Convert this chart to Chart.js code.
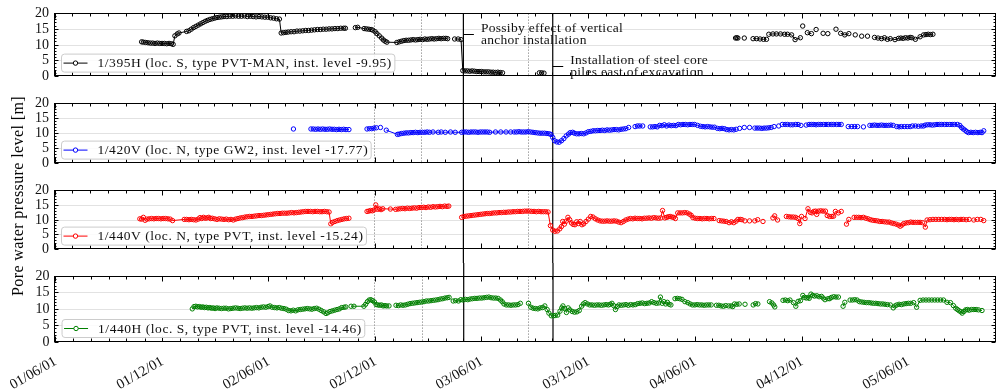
<!DOCTYPE html>
<html>
<head>
<meta charset="utf-8">
<title>Pore water pressure level</title>
<script src="https://cdn.jsdelivr.net/npm/chart.js@4.4.1/dist/chart.umd.min.js"></script>
<style>
  html, body { margin: 0; padding: 0; background: #fff; }
  #wrap { position: relative; width: 1001px; height: 389px; overflow: hidden; }
  #wrap canvas { position: absolute; left: 0; }
  #ytitle {
    position: absolute; left: 18px; top: 196px; z-index: 5;
    transform: translate(-50%, -50%) rotate(-90deg);
    font: 16px "Liberation Serif", serif; letter-spacing: 0.4px;
    white-space: nowrap; color: #000;
  }
</style>
</head>
<body>
<div id="wrap">
  <canvas id="p0" width="1001" height="90" style="top:0px"></canvas>
  <canvas id="p1" width="1001" height="87" style="top:90px"></canvas>
  <canvas id="p2" width="1001" height="86" style="top:177px"></canvas>
  <canvas id="p3" width="1001" height="126" style="top:263px"></canvas>
  <div id="ytitle">Pore water pressure level [m]</div>
</div>
<script>
// ---- axis range and tick labels -------------------------------------------
const xStart = '2001-05-30';
const xEnd = '2005-10-29';
const tickDates = ['2001-06-01', '2001-12-01', '2002-06-01', '2002-12-01', '2003-06-01',
                   '2003-12-01', '2004-06-01', '2004-12-01', '2005-06-01'];
const tickLabels = ['01/06/01', '01/12/01', '02/06/01', '02/12/01', '03/06/01',
                    '03/12/01', '04/06/01', '04/12/01', '05/06/01'];
const levelTicks = [0, 5, 10, 15, 20];

// ---- site events ----------------------------------------------------------
const eventDates = ['2003-05-01', '2003-10-01'];                 // solid lines
const checkDates = ['2002-11-29', '2003-02-19', '2003-08-20'];   // dotted lines
const noteDates = ['2003-05-01', '2003-10-01'];
const noteLevels = [13.4, 3.2];
const noteLines = [['Possiby effect of vertical', 'anchor installation'],
                   ['Installation of steel core', 'piles east of excavation']];

// ---- piezometer names and colours ----------------------------------------
const sensorLabels = ['1/395H (loc. S, type PVT-MAN, inst. level -9.95)',
                      '1/420V (loc. N, type GW2, inst. level -17.77)',
                      '1/440V (loc. N, type PVT, inst. level -15.24)',
                      '1/440H (loc. S, type PVT, inst. level -14.46)'];
const sensorColors = ['#000000', '#0000ff', '#ff0000', '#008000'];

// ---- readings: [date, level m]; null = interruption of the record --------
const obs395H = [
['2001-10-27',11.0],['2001-10-30',10.9],['2001-11-03',10.8],['2001-11-07',10.7],['2001-11-11',10.6],['2001-11-15',10.6],
['2001-11-19',10.5],['2001-11-23',10.6],['2001-11-27',10.5],['2001-12-01',10.5],['2001-12-05',10.5],['2001-12-09',10.4],
['2001-12-13',10.5],['2001-12-17',10.4],['2001-12-20',10.2],['2001-12-23',12.9],['2001-12-27',13.5],['2001-12-30',13.8],
['2002-01-12',14.3],['2002-01-16',14.5],['2002-01-20',15.0],['2002-01-24',15.5],['2002-01-28',15.9],['2002-02-01',16.3],
['2002-02-05',16.7],['2002-02-09',17.1],['2002-02-13',17.5],['2002-02-17',17.8],['2002-02-21',18.1],['2002-02-25',18.3],
['2002-03-01',18.5],['2002-03-05',18.7],['2002-03-09',18.8],['2002-03-13',18.9],['2002-03-17',19.0],['2002-03-22',19.0],
['2002-03-27',19.1],['2002-04-01',19.1],['2002-04-06',19.2],['2002-04-11',19.1],['2002-04-16',19.1],['2002-04-21',19.2],
['2002-04-26',19.0],['2002-05-01',19.1],['2002-05-06',19.0],['2002-05-11',18.9],['2002-05-16',19.0],['2002-05-21',18.9],
['2002-05-26',18.8],['2002-05-31',18.8],['2002-06-05',18.6],['2002-06-10',18.5],['2002-06-15',18.3],['2002-06-20',18.2],
['2002-06-23',13.8],['2002-06-27',13.9],['2002-07-01',14.0],['2002-07-05',14.1],['2002-07-10',14.2],['2002-07-15',14.2],
['2002-07-20',14.4],['2002-07-25',14.4],['2002-07-30',14.5],['2002-08-04',14.6],['2002-08-09',14.6],['2002-08-14',14.7],
['2002-08-19',14.8],['2002-08-24',14.9],['2002-08-29',14.9],['2002-09-03',15.0],['2002-09-08',15.0],['2002-09-13',15.1],
['2002-09-18',15.1],['2002-09-23',15.2],['2002-09-28',15.2],['2002-10-03',15.3],['2002-10-08',15.3],['2002-10-11',15.3],
null,
['2002-10-28',15.5],['2002-11-01',15.6],['2002-11-12',15.2],['2002-11-16',15.1],['2002-11-20',15.0],['2002-11-24',14.9],
['2002-11-27',14.7],['2002-12-01',14.2],['2002-12-04',13.6],['2002-12-08',12.9],['2002-12-12',12.2],['2002-12-15',11.6],
['2002-12-18',11.2],['2002-12-21',10.9],['2003-01-07',10.8],['2003-01-11',11.0],['2003-01-15',11.2],['2003-01-19',11.4],
['2003-01-23',11.5],['2003-01-27',11.5],['2003-01-31',11.6],['2003-02-04',11.7],['2003-02-08',11.6],['2003-02-12',11.7],
['2003-02-16',11.8],['2003-02-20',11.7],['2003-02-24',11.9],['2003-02-28',11.8],['2003-03-04',11.9],['2003-03-08',12.0],
['2003-03-12',11.9],['2003-03-16',12.0],['2003-03-20',12.1],['2003-03-24',12.0],['2003-03-28',12.1],['2003-04-01',12.1],
['2003-04-04',12.0],
null,
['2003-04-16',11.9],['2003-04-22',11.9],['2003-04-27',11.7],['2003-04-30',1.9],['2003-05-04',1.8],['2003-05-08',1.8],
['2003-05-12',1.7],['2003-05-16',1.8],['2003-05-20',1.7],['2003-05-24',1.6],['2003-05-28',1.6],['2003-06-01',1.6],
['2003-06-05',1.5],['2003-06-09',1.5],['2003-06-13',1.5],['2003-06-17',1.4],['2003-06-21',1.4],['2003-06-25',1.3],
['2003-06-29',1.4],['2003-07-03',1.3],['2003-07-07',1.2],
null,
['2003-09-08',1.2],['2003-09-12',1.2],['2003-09-16',1.1],
null,
['2004-08-09',12.2],['2004-08-11',12.3],['2004-08-13',12.2], null, ['2004-08-24',12.2], null,
['2004-09-08',12.0],['2004-09-14',12.0],['2004-09-20',11.9],['2004-09-26',11.8],['2004-10-01',11.8], null,
['2004-10-05',13.4],['2004-10-12',13.5],['2004-10-18',13.5],['2004-10-25',13.5],['2004-11-01',13.4],['2004-11-06',13.4],
['2004-11-13',13.2],['2004-11-19',11.7],['2004-11-28',12.3], null, ['2004-12-02',16.0], null,
['2004-12-10',13.9],['2004-12-17',13.6], null, ['2004-12-25',14.9], null, ['2005-01-06',13.7], null,
['2005-01-14',13.6], null, ['2005-01-28',15.0], null, ['2005-02-05',13.7],['2005-02-12',13.2],['2005-02-19',13.6], null,
['2005-03-02',13.2], null, ['2005-03-13',12.8], null, ['2005-03-23',12.8], null,
['2005-04-04',12.4],['2005-04-10',12.2],['2005-04-16',12.0],['2005-04-21',12.3],['2005-04-26',11.8],['2005-05-01',12.0],
['2005-05-09',11.7],['2005-05-15',12.1],['2005-05-19',12.2],['2005-05-23',12.1],['2005-05-27',12.3],['2005-05-31',12.2],
['2005-06-04',12.4],['2005-06-07',12.3],['2005-06-13',11.8],['2005-06-21',12.6],['2005-06-27',13.2],['2005-07-01',13.3],
['2005-07-05',13.4],['2005-07-09',13.3],['2005-07-13',13.4]
];

const obs420V = [
['2002-07-14',11.5], null,
['2002-08-13',11.5],['2002-08-17',11.5],['2002-08-21',11.4],['2002-08-25',11.5],['2002-08-29',11.4],['2002-09-02',11.5],
['2002-09-06',11.4],['2002-09-10',11.4],['2002-09-14',11.5],['2002-09-18',11.4],['2002-09-22',11.4],['2002-09-26',11.3],
['2002-09-30',11.4],['2002-10-04',11.3],['2002-10-08',11.4],['2002-10-12',11.3],['2002-10-17',11.3], null,
['2002-11-17',11.5],['2002-11-21',11.6],['2002-11-25',11.6],['2002-11-29',11.8],['2002-12-03',11.9], null,
['2002-12-10',12.0], null,
['2002-12-20',11.1],['2003-01-08',9.7],['2003-01-11',9.8],['2003-01-15',10.0],['2003-01-19',10.1],['2003-01-23',10.2],
['2003-01-27',10.2],['2003-01-31',10.3],['2003-02-04',10.3],['2003-02-08',10.4],['2003-02-12',10.3],['2003-02-16',10.4],
['2003-02-20',10.4],['2003-02-24',10.4],['2003-02-28',10.5],['2003-03-04',10.4],['2003-03-10',10.5],['2003-03-19',10.4],
['2003-03-24',10.5],['2003-03-31',10.4],['2003-04-09',10.5],['2003-04-17',10.4],['2003-04-28',10.4],['2003-05-02',10.5],
['2003-05-06',10.5],['2003-05-10',10.4],['2003-05-14',10.5],['2003-05-18',10.5],['2003-05-22',10.5],['2003-05-26',10.4],
['2003-05-30',10.5],['2003-06-03',10.5],['2003-06-07',10.5],['2003-06-11',10.5],['2003-06-15',10.4],['2003-06-25',10.5],
['2003-07-04',10.5],['2003-07-13',10.5],['2003-07-21',10.5],['2003-07-27',10.5],['2003-07-31',10.5],['2003-08-04',10.6],
['2003-08-08',10.5],['2003-08-12',10.5],['2003-08-16',10.5],['2003-08-20',10.6],['2003-08-24',10.5],['2003-08-28',10.4],
['2003-09-01',10.3],['2003-09-05',10.2],['2003-09-09',10.1],['2003-09-13',10.1],['2003-09-17',10.1],['2003-09-21',10.0],
['2003-09-25',9.9],['2003-09-28',9.7],['2003-10-01',8.7],['2003-10-04',7.6],['2003-10-08',7.2],['2003-10-12',7.1],
['2003-10-16',7.6],['2003-10-20',8.3],['2003-10-24',9.2],['2003-10-28',9.8],['2003-10-31',10.3],['2003-11-04',10.4],
['2003-11-07',10.1],['2003-11-11',9.9],['2003-11-15',9.9],['2003-11-19',10.0],['2003-11-23',9.9],['2003-11-27',10.2],
['2003-12-01',10.6],['2003-12-05',10.7],['2003-12-09',10.9],['2003-12-13',10.9],['2003-12-17',11.0],['2003-12-21',11.0],
['2003-12-25',11.1],['2003-12-29',11.0],['2004-01-02',11.2],['2004-01-06',11.1],['2004-01-10',11.2],['2004-01-14',11.3],
['2004-01-18',11.3],['2004-01-22',11.2],['2004-01-26',11.4],['2004-01-30',11.5],['2004-02-03',11.6],['2004-02-08',12.0],
null,
['2004-02-19',12.3],['2004-02-23',12.5],['2004-02-27',12.5],['2004-03-03',12.5], null,
['2004-03-16',12.2],['2004-03-20',12.2],['2004-03-24',12.3],['2004-03-28',12.2],['2004-04-01',12.7],['2004-04-05',12.6],
['2004-04-09',12.9],['2004-04-13',12.5],['2004-04-17',12.8],['2004-04-21',12.6],['2004-04-25',12.7],['2004-04-29',12.6],
['2004-05-03',13.0],['2004-05-07',12.9],['2004-05-11',13.0],['2004-05-15',13.0],['2004-05-19',12.9],['2004-05-23',13.0],
['2004-05-27',13.0],['2004-05-31',13.0],['2004-06-05',12.7],['2004-06-10',12.4],['2004-06-14',12.3],['2004-06-18',12.2],
['2004-06-22',12.3],['2004-06-26',12.2],['2004-06-30',12.1],['2004-07-04',12.1],['2004-07-09',11.7],['2004-07-13',11.6],
['2004-07-17',11.7],['2004-07-21',11.6],['2004-07-25',11.3],['2004-07-29',11.2],['2004-08-02',11.3],['2004-08-06',11.2],
['2004-08-10',11.4], null, ['2004-08-16',11.7], null, ['2004-08-24',12.0], null, ['2004-09-02',12.0], null,
['2004-09-11',11.8],['2004-09-15',11.8],['2004-09-19',11.8],['2004-09-23',11.7],['2004-09-27',11.8],['2004-10-01',11.8],
['2004-10-05',11.9],['2004-10-09',12.0], null, ['2004-10-14',12.3], null, ['2004-10-22',12.5], null,
['2004-10-28',13.0],['2004-11-02',13.0],['2004-11-06',13.0],['2004-11-11',12.9],['2004-11-15',12.9],['2004-11-20',13.0],
['2004-11-24',13.0],['2004-11-29',12.7], null,
['2004-12-08',12.8],['2004-12-13',13.0],['2004-12-17',13.0],['2004-12-21',13.0],['2004-12-25',12.9],['2004-12-29',13.0],
['2005-01-02',13.0],['2005-01-07',13.0],['2005-01-11',13.0],['2005-01-15',13.0],['2005-01-20',13.0],['2005-01-24',13.0],
['2005-01-29',13.0],['2005-02-02',13.0],['2005-02-06',13.0], null,
['2005-02-18',12.3],['2005-02-24',12.3],['2005-03-01',12.3],['2005-03-06',12.3], null, ['2005-03-16',12.2], null,
['2005-03-27',12.7],['2005-03-31',12.7],['2005-04-04',12.8],['2005-04-08',12.7],['2005-04-12',12.7],['2005-04-16',12.8],
['2005-04-20',12.7],['2005-04-24',12.7],['2005-04-28',12.7],['2005-05-02',12.8],['2005-05-06',12.7], null,
['2005-05-12',12.3],['2005-05-16',12.2],['2005-05-20',12.3],['2005-05-25',12.3],['2005-05-30',12.3],['2005-06-04',12.3],
null,
['2005-06-08',12.5],['2005-06-13',12.5],['2005-06-18',12.4],['2005-06-23',12.5],['2005-06-27',12.5],['2005-06-30',12.8],
['2005-07-04',12.9],['2005-07-08',12.9],['2005-07-12',12.8],['2005-07-16',12.9],['2005-07-20',13.0],['2005-07-24',13.0],
['2005-07-28',13.0],['2005-08-02',13.0],['2005-08-06',13.0],['2005-08-11',13.0],['2005-08-15',13.0],['2005-08-19',13.0],
['2005-08-24',13.0],['2005-08-28',12.7],['2005-08-31',12.0],['2005-09-03',11.5],['2005-09-06',11.1],['2005-09-09',10.6],
['2005-09-12',10.3],['2005-09-16',10.4],['2005-09-20',10.3],['2005-09-24',10.4],['2005-09-28',10.3],['2005-10-02',10.4],
['2005-10-05',10.3],['2005-10-08',10.9]
];

const obs440V = [
['2001-10-24',10.4],['2001-10-27',10.3],['2001-10-30',10.9],['2001-11-02',9.9],['2001-11-05',10.3],['2001-11-09',10.4],
['2001-11-13',10.5],['2001-11-17',10.4],['2001-11-21',10.5],['2001-11-25',10.5],['2001-11-29',10.4],['2001-12-03',10.5],
['2001-12-07',10.5],['2001-12-11',10.4],['2001-12-15',10.3],['2001-12-19',9.8],['2002-01-08',10.2],['2002-01-12',10.2],
['2002-01-16',10.1],['2002-01-20',10.2],['2002-01-24',10.1],['2002-01-28',10.0],['2002-02-01',10.3],['2002-02-04',10.8],
['2002-02-07',10.5],['2002-02-10',10.9],['2002-02-13',10.6],['2002-02-16',10.7],['2002-02-19',10.9],['2002-02-22',10.5],
['2002-02-25',10.6],['2002-03-01',10.4],['2002-03-05',10.2],['2002-03-09',10.4],['2002-03-13',10.3],['2002-03-17',10.2],
['2002-03-21',10.3],['2002-03-25',10.1],['2002-03-29',10.2],['2002-04-02',10.0],['2002-04-06',10.3],['2002-04-10',10.5],
['2002-04-14',10.7],['2002-04-18',10.8],['2002-04-22',11.0],['2002-04-26',11.1],['2002-04-30',11.2],['2002-05-04',11.2],
['2002-05-08',11.3],['2002-05-12',11.4],['2002-05-16',11.5],['2002-05-20',11.5],['2002-05-24',11.6],['2002-05-28',11.7],
['2002-06-01',11.8],['2002-06-05',11.9],['2002-06-09',12.0],['2002-06-13',12.1],['2002-06-17',12.2],['2002-06-21',12.2],
['2002-06-25',12.3],['2002-06-29',12.3],['2002-07-03',12.3],['2002-07-07',12.4],['2002-07-11',12.5],['2002-07-15',12.4],
['2002-07-19',12.5],['2002-07-23',12.6],['2002-07-27',12.7],['2002-07-31',12.8],['2002-08-04',12.9],['2002-08-08',12.9],
['2002-08-12',12.9],['2002-08-16',12.8],['2002-08-20',12.9],['2002-08-24',12.9],['2002-08-28',12.8],['2002-09-01',12.8],
['2002-09-05',12.9],['2002-09-09',12.8],['2002-09-13',12.7],['2002-09-16',8.7],['2002-09-19',9.2],['2002-09-23',9.5],
['2002-09-27',9.8],['2002-10-01',10.0],['2002-10-05',10.2],['2002-10-09',10.4],['2002-10-13',10.5],['2002-10-17',10.6],
null,
['2002-11-17',12.9],['2002-11-20',13.0],['2002-11-23',13.2],['2002-11-26',13.1],['2002-11-29',13.4],['2002-12-02',15.1],
['2002-12-05',13.6],['2002-12-08',13.8],['2002-12-11',13.5],['2002-12-14',13.8],['2002-12-27',13.7],['2003-01-05',13.6],
['2003-01-09',13.7],['2003-01-13',13.8],['2003-01-17',13.9],['2003-01-21',13.8],['2003-01-25',14.0],['2003-01-29',13.9],
['2003-02-02',14.0],['2003-02-06',14.1],['2003-02-10',14.0],['2003-02-14',14.2],['2003-02-18',14.2],['2003-02-22',14.3],
['2003-02-26',14.2],['2003-03-02',14.4],['2003-03-06',14.3],['2003-03-10',14.5],['2003-03-14',14.4],['2003-03-18',14.5],
['2003-03-22',14.6],['2003-03-26',14.5],['2003-03-30',14.7],['2003-04-03',14.6],['2003-04-06',14.7],
null,
['2003-04-28',10.9],['2003-05-02',11.2],['2003-05-06',11.3],['2003-05-10',11.4],['2003-05-14',11.5],['2003-05-18',11.6],
['2003-05-22',11.7],['2003-05-26',11.8],['2003-05-30',11.9],['2003-06-03',12.0],['2003-06-07',12.1],['2003-06-11',12.2],
['2003-06-15',12.2],['2003-06-19',12.3],['2003-06-23',12.4],['2003-06-27',12.4],['2003-07-01',12.5],['2003-07-05',12.5],
['2003-07-09',12.6],['2003-07-13',12.6],['2003-07-17',12.7],['2003-07-21',12.7],['2003-07-25',12.8],['2003-07-29',12.8],
['2003-08-02',12.9],['2003-08-06',12.9],['2003-08-10',12.9],['2003-08-14',13.0],['2003-08-18',13.0],['2003-08-22',13.0],
['2003-08-26',12.9],['2003-08-30',12.9],['2003-09-03',12.8],['2003-09-07',12.9],['2003-09-11',12.8],['2003-09-15',12.8],
['2003-09-19',12.8],['2003-09-23',12.7],['2003-09-27',8.1],['2003-10-01',6.6],['2003-10-05',6.2],['2003-10-09',6.3],
['2003-10-13',7.0],['2003-10-16',7.8],['2003-10-18',9.5],['2003-10-21',8.6],['2003-10-24',9.6],['2003-10-27',10.9],
['2003-10-30',10.1],['2003-11-02',9.0],['2003-11-05',8.5],['2003-11-08',8.4],['2003-11-11',9.4],['2003-11-14',8.8],
['2003-11-17',9.5],['2003-11-20',8.4],['2003-11-23',8.7],['2003-11-27',9.5],['2003-12-01',10.3],['2003-12-05',11.2],
['2003-12-09',11.0],['2003-12-13',10.4],['2003-12-17',10.0],['2003-12-21',9.7],['2003-12-25',9.6],['2003-12-29',9.6],
['2004-01-02',9.7],['2004-01-06',9.6],['2004-01-10',9.6],['2004-01-14',9.7],['2004-01-18',9.6],['2004-01-22',9.3],
['2004-01-26',9.1],['2004-01-30',9.5],['2004-02-03',10.0],['2004-02-07',10.3],['2004-02-11',10.5],['2004-02-15',10.4],
['2004-02-19',10.6],['2004-02-23',10.5],['2004-02-27',10.5],['2004-03-02',10.4],['2004-03-06',10.6],['2004-03-10',10.6],
['2004-03-14',10.7],['2004-03-18',10.6],['2004-03-22',10.8],['2004-03-26',10.7],['2004-03-30',10.6],['2004-04-03',10.7],
['2004-04-06',13.2],['2004-04-10',10.7],['2004-04-13',10.9],['2004-04-16',11.1],['2004-04-19',11.2],['2004-04-22',11.0],
['2004-04-25',10.9],['2004-04-28',10.5],['2004-05-02',12.4],['2004-05-06',12.4],['2004-05-10',12.4],['2004-05-14',12.5],
['2004-05-18',12.4],['2004-05-22',12.0],['2004-05-25',11.6],['2004-05-28',10.8],['2004-06-01',10.6],['2004-06-05',10.5],
['2004-06-09',10.5],['2004-06-13',10.4],['2004-06-17',10.5],['2004-06-21',10.5],['2004-06-25',10.4],['2004-06-29',10.5],
['2004-07-03',10.5], null,
['2004-07-12',9.8],['2004-07-16',9.7],['2004-07-20',9.6],['2004-07-24',9.5],['2004-07-29',9.1],['2004-08-02',9.4],
['2004-08-06',9.1],['2004-08-10',9.6],['2004-08-13',10.2],['2004-08-17',10.2],['2004-08-20',10.1], null,
['2004-08-25',9.7], null, ['2004-09-02',9.7], null, ['2004-09-11',9.7],['2004-09-16',10.1], null, ['2004-09-25',9.5], null,
['2004-10-12',10.7],['2004-10-15',11.4],['2004-10-20',10.0], null,
['2004-11-04',11.2],['2004-11-08',11.1],['2004-11-12',11.0],['2004-11-16',11.0],['2004-11-20',10.9],['2004-11-24',10.5],
['2004-11-27',8.8],['2004-11-30',11.2], null,
['2004-12-06',10.5],['2004-12-11',13.8],['2004-12-15',12.6],['2004-12-18',12.4],['2004-12-21',12.9],['2004-12-24',13.0],
['2004-12-26',11.9],['2004-12-29',13.0],['2005-01-02',13.1],['2005-01-06',13.0],['2005-01-10',13.0],['2005-01-13',11.5],
['2005-01-17',11.2],['2005-01-21',11.2],['2005-01-24',11.3],['2005-01-27',12.9],['2005-02-01',12.4],['2005-02-06',12.9],
null,
['2005-02-15',8.6],['2005-02-19',10.2], null,
['2005-02-28',10.9],['2005-03-04',10.9],['2005-03-08',10.9],['2005-03-12',10.8],['2005-03-16',10.9],['2005-03-20',10.6],
['2005-03-24',10.4],['2005-03-28',10.1],['2005-04-01',9.9],['2005-04-05',9.8],['2005-04-09',9.7],['2005-04-13',9.5],
['2005-04-17',9.5],['2005-04-21',9.4],['2005-04-25',9.3],['2005-04-29',9.3],['2005-05-03',9.0],['2005-05-07',8.8],
['2005-05-11',8.6],['2005-05-15',8.3],['2005-05-18',7.9],['2005-05-21',8.3],['2005-05-24',8.8],['2005-05-28',9.0],
['2005-06-01',9.1],['2005-06-05',9.3],['2005-06-09',9.2],['2005-06-13',9.2],['2005-06-17',9.2],['2005-06-21',9.2],
['2005-06-25',9.1],['2005-06-30',7.6],['2005-07-03',10.0],['2005-07-08',10.1],['2005-07-13',10.2],['2005-07-18',10.2],
['2005-07-23',10.2],['2005-07-28',10.2],['2005-08-02',10.2],['2005-08-06',10.1],['2005-08-10',10.2],['2005-08-14',10.2],
['2005-08-18',10.1],['2005-08-22',10.2],['2005-08-26',10.1],['2005-08-30',10.2],['2005-09-03',10.2],['2005-09-08',10.1],
['2005-09-13',10.2], null, ['2005-09-21',10.0],['2005-09-27',10.2], null, ['2005-10-03',10.2],['2005-10-08',9.8]
];

const obs440H = [
['2002-01-21',10.1],['2002-01-24',10.8],['2002-01-27',10.9],['2002-01-30',10.7],['2002-02-02',10.8],['2002-02-05',10.6],
['2002-02-08',10.7],['2002-02-11',10.5],['2002-02-14',10.6],['2002-02-17',10.4],['2002-02-20',10.5],['2002-02-23',10.3],
['2002-02-26',10.4],['2002-03-01',10.2],['2002-03-04',10.4],['2002-03-08',10.3],['2002-03-12',10.2],['2002-03-16',10.3],
['2002-03-20',10.3],['2002-03-24',10.1],['2002-03-28',10.2],['2002-04-01',10.3],['2002-04-05',10.4],['2002-04-09',10.3],
['2002-04-13',10.2],['2002-04-17',10.3],['2002-04-21',10.4],['2002-04-25',10.3],['2002-04-29',10.4],['2002-05-03',10.3],
['2002-05-07',10.4],['2002-05-11',10.5],['2002-05-15',10.4],['2002-05-19',10.6],['2002-05-23',10.7],['2002-05-27',10.6],
['2002-05-31',10.8],['2002-06-03',11.0],['2002-06-07',10.6],['2002-06-11',10.5],['2002-06-15',10.4],['2002-06-19',10.5],
['2002-06-23',10.3],['2002-06-27',10.2],['2002-07-01',10.0],['2002-07-05',9.6],['2002-07-09',9.5],['2002-07-13',9.7],
['2002-07-17',9.5],['2002-07-21',9.8],['2002-07-25',9.9],['2002-07-29',10.0],['2002-08-02',10.1],['2002-08-06',10.2],
['2002-08-10',10.1],['2002-08-14',10.0],['2002-08-18',10.2],['2002-08-22',10.3],['2002-08-26',10.0],['2002-08-30',9.6],
['2002-09-03',9.2],['2002-09-07',8.7],['2002-09-10',8.9],['2002-09-14',9.3],['2002-09-18',9.5],['2002-09-22',9.7],
['2002-09-26',9.9],['2002-09-30',10.1],['2002-10-04',10.5],['2002-10-08',10.6],['2002-10-11',10.7], null,
['2002-10-20',10.9],['2002-10-25',10.9],['2002-11-11',10.9],['2002-11-14',11.5],['2002-11-17',12.3],['2002-11-20',12.8],
['2002-11-23',12.9],['2002-11-26',12.6],['2002-11-29',12.2],['2002-12-02',11.4],['2002-12-05',11.3],['2002-12-08',11.2],
['2002-12-11',11.3],['2002-12-14',11.0],['2002-12-17',11.1],['2002-12-20',11.0],['2002-12-24',11.0], null,
['2003-01-05',11.2],['2003-01-09',11.1],['2003-01-13',11.3],['2003-01-17',11.2],['2003-01-21',11.3],['2003-01-25',11.5],
['2003-01-29',11.7],['2003-02-02',11.8],['2003-02-06',11.9],['2003-02-10',12.0],['2003-02-14',12.1],['2003-02-18',12.2],
['2003-02-22',12.3],['2003-02-26',12.5],['2003-03-02',12.5],['2003-03-06',12.6],['2003-03-10',12.7],['2003-03-14',12.8],
['2003-03-18',12.9],['2003-03-22',13.1],['2003-03-26',13.2],['2003-03-30',13.4],['2003-04-03',13.5],['2003-04-06',13.6],
null,
['2003-04-13',12.5],['2003-04-17',12.6],['2003-04-22',12.5],['2003-04-26',12.9],['2003-04-30',12.8],['2003-05-04',13.0],
['2003-05-08',12.9],['2003-05-12',13.1],['2003-05-16',13.2],['2003-05-20',13.3],['2003-05-24',13.3],['2003-05-28',13.4],
['2003-06-01',13.4],['2003-06-05',13.5],['2003-06-09',13.6],['2003-06-13',13.7],['2003-06-17',13.5],['2003-06-21',13.4],
['2003-06-25',13.4],['2003-06-29',13.3],['2003-07-03',12.8],['2003-07-06',12.3],['2003-07-09',11.6],['2003-07-13',11.3],
['2003-07-17',11.3],['2003-07-21',11.2],['2003-07-25',11.3],['2003-07-29',11.3],['2003-08-02',11.4],['2003-08-06',11.8],
null,
['2003-08-20',11.8],['2003-08-24',10.6],['2003-08-28',10.3],['2003-09-01',10.2],['2003-09-05',10.1],['2003-09-09',10.4],
['2003-09-13',10.5],['2003-09-17',11.0],['2003-09-21',9.9],['2003-09-24',8.8],['2003-09-28',8.0],['2003-10-02',8.0],
['2003-10-05',8.1],['2003-10-09',8.2],['2003-10-13',9.4],['2003-10-16',10.4],['2003-10-18',11.0],['2003-10-21',10.2],
['2003-10-24',9.0],['2003-10-27',10.4],['2003-10-30',9.8],['2003-11-03',9.3],['2003-11-07',9.1],['2003-11-11',9.2],
['2003-11-15',9.6],['2003-11-19',10.9],['2003-11-22',11.6],['2003-11-25',12.0],['2003-11-29',11.6],['2003-12-03',11.3],
['2003-12-07',11.3],['2003-12-11',11.2],['2003-12-15',11.3],['2003-12-19',11.3],['2003-12-23',11.2],['2003-12-27',11.3],
['2003-12-31',11.4],['2004-01-04',11.3],['2004-01-07',11.5],['2004-01-10',11.8],['2004-01-13',11.1],['2004-01-16',9.9],
['2004-01-19',10.8],['2004-01-22',11.3],['2004-01-26',11.2],['2004-01-30',11.3],['2004-02-03',11.4],['2004-02-07',11.2],
['2004-02-11',11.4],['2004-02-15',11.3],['2004-02-19',11.4],['2004-02-23',11.7],['2004-02-27',11.8],['2004-03-02',11.9],
['2004-03-06',11.7],['2004-03-10',11.8],['2004-03-14',11.9],['2004-03-18',12.3],['2004-03-22',12.0],['2004-03-26',11.8],
['2004-03-30',11.9],['2004-04-02',13.7],['2004-04-05',11.8],['2004-04-08',12.3],['2004-04-11',11.6],['2004-04-14',12.1],
['2004-04-17',11.5],['2004-04-20',11.3], null,
['2004-04-27',13.2],['2004-05-01',13.3],['2004-05-05',13.2],['2004-05-09',13.0],['2004-05-14',12.3],['2004-05-19',12.0],
['2004-05-23',11.6],['2004-05-27',11.3],['2004-05-31',11.3],['2004-06-04',11.4],['2004-06-08',11.3],['2004-06-12',11.3],
['2004-06-16',11.2],['2004-06-20',11.3],['2004-06-24',11.3],['2004-06-28',11.3], null,
['2004-07-07',11.2],['2004-07-11',11.2],['2004-07-15',11.0],['2004-07-19',10.9],['2004-07-23',11.1], null,
['2004-07-28',11.0],['2004-08-01',11.0],['2004-08-04',10.8],['2004-08-07',11.6],['2004-08-11',11.5],['2004-08-15',11.6],
null, ['2004-08-25',11.5], null, ['2004-09-08',11.3],['2004-09-12',11.7],['2004-09-16',11.6], null,
['2004-10-06',12.3],['2004-10-10',11.9],['2004-10-13',11.3],['2004-10-15',10.7], null,
['2004-10-29',12.7],['2004-11-02',12.8],['2004-11-06',12.6],['2004-11-10',12.8],['2004-11-16',12.0],['2004-11-20',10.9],
['2004-11-24',12.4],['2004-11-28',12.6],['2004-12-02',14.2],['2004-12-05',13.6],['2004-12-08',13.4],['2004-12-11',13.6],
['2004-12-13',13.3],['2004-12-16',14.6],['2004-12-19',14.2],['2004-12-22',14.0],['2004-12-26',14.1],['2004-12-30',13.8],
['2005-01-03',13.9],['2005-01-06',13.4],['2005-01-09',12.9],['2005-01-14',13.2],['2005-01-17',13.2],['2005-01-20',13.6],
['2005-01-24',13.8],['2005-01-28',13.7],['2005-02-01',13.7], null,
['2005-02-09',10.9],['2005-02-12',12.1], null,
['2005-02-21',12.8],['2005-02-25',12.8],['2005-03-01',12.9],['2005-03-05',12.8],['2005-03-09',12.3],['2005-03-13',12.2],
['2005-03-17',12.1],['2005-03-21',12.0],['2005-03-25',12.0],['2005-03-29',11.9],['2005-04-02',11.8],['2005-04-06',11.8],
['2005-04-10',11.7],['2005-04-14',11.6],['2005-04-18',11.6],['2005-04-22',11.5],['2005-04-26',11.4],['2005-05-01',11.3],
['2005-05-06',10.4],['2005-05-09',11.0],['2005-05-12',11.3],['2005-05-16',11.5],['2005-05-20',11.4],['2005-05-24',11.6],
['2005-05-28',11.7],['2005-06-01',11.8],['2005-06-05',11.8],['2005-06-10',12.0],['2005-06-15',10.6],['2005-06-21',12.7],
['2005-06-26',12.8],['2005-07-01',12.8],['2005-07-06',12.8],['2005-07-11',12.8],['2005-07-16',12.8],['2005-07-21',12.8],
['2005-07-26',12.8],['2005-07-31',12.8],['2005-08-06',12.1],['2005-08-12',12.0],['2005-08-17',11.1],['2005-08-21',10.3],
['2005-08-24',9.9],['2005-08-27',9.5],['2005-08-30',9.2],['2005-09-01',8.8],['2005-09-04',9.3],['2005-09-07',9.8],
['2005-09-10',9.9],['2005-09-13',9.7],['2005-09-17',9.9],['2005-09-21',9.9],['2005-09-25',9.9],['2005-09-29',9.8],
['2005-10-05',9.6]
];

// ---- helpers --------------------------------------------------------------
const DAY_MS = 86400000;
function toDay(s) {
  const [y, m, d] = s.split('-').map(Number);
  return Date.UTC(y, m - 1, d) / DAY_MS;
}
function toPoints(obs) {
  const pts = [];
  let lastX = toDay(xStart);
  for (const o of obs) {
    if (o === null) { pts.push({ x: lastX, y: null }); continue; }
    lastX = toDay(o[0]);
    pts.push({ x: lastX, y: o[1] });
  }
  return pts;
}
const crisp = v => Math.floor(v) + 0.5;
const SERIF = '"Liberation Serif", "Times New Roman", serif';
const majorTickDays = tickDates.map(toDay);

// month starts between the axis limits (for the small ticks)
function monthStarts() {
  const out = [];
  const [y0, m0] = xStart.split('-').map(Number);
  let y = y0, m = m0;
  const end = toDay(xEnd);
  for (;;) {
    const d = Date.UTC(y, m - 1, 1) / DAY_MS;
    if (d > end) break;
    if (d >= toDay(xStart)) out.push(d);
    m++; if (m > 12) { m = 1; y++; }
  }
  return out;
}
const minorTickDays = monthStarts();

// ---- per-panel decorations: event lines, frame, inward ticks, legend, notes --
const panelDecor = {
  id: 'panelDecor',
  beforeDatasetsDraw(chart, args, opts) {
    const { ctx, chartArea: a, scales: { x } } = chart;
    ctx.save();
    ctx.strokeStyle = '#a0a0a0';
    ctx.lineWidth = 1;
    ctx.setLineDash([1.5, 1.5]);
    for (const d of checkDates) {
      const px = crisp(x.getPixelForValue(toDay(d)));
      ctx.beginPath(); ctx.moveTo(px, a.top); ctx.lineTo(px, a.bottom); ctx.stroke();
    }
    ctx.setLineDash([]);
    ctx.strokeStyle = '#000';
    ctx.lineWidth = 1.2;
    const top = opts.first ? a.top : 0;
    const bottom = opts.last ? a.bottom : chart.height;
    for (const d of eventDates) {
      const px = x.getPixelForValue(toDay(d));
      ctx.beginPath(); ctx.moveTo(px, top); ctx.lineTo(px, bottom); ctx.stroke();
    }
    ctx.restore();
  },
  afterDatasetsDraw(chart) {
    const { ctx, chartArea: a, scales: { x, y } } = chart;
    const L = crisp(a.left), R = crisp(a.right - 1), T = crisp(a.top), B = crisp(a.bottom - 1);
    ctx.save();
    ctx.strokeStyle = '#000';
    ctx.lineWidth = 1;
    ctx.beginPath();
    // level ticks, left and right, pointing inwards
    for (let v = 0; v <= 20; v++) {
      const py = crisp(y.getPixelForValue(v));
      const len = v % 5 === 0 ? 4 : 2;
      ctx.moveTo(L, py); ctx.lineTo(L + len, py);
      ctx.moveTo(R, py); ctx.lineTo(R - len, py);
    }
    // date ticks, top and bottom, pointing inwards
    for (const d of minorTickDays) {
      const px = crisp(x.getPixelForValue(d));
      const len = majorTickDays.includes(d) ? 5 : 3;
      ctx.moveTo(px, T); ctx.lineTo(px, T + len);
      ctx.moveTo(px, B); ctx.lineTo(px, B - len);
    }
    ctx.stroke();
    ctx.strokeRect(L, T, R - L, B - T);
    ctx.restore();
  },
  afterDraw(chart, args, opts) {
    const { ctx, chartArea: a } = chart;
    const ds = chart.data.datasets[0];
    ctx.save();
    // legend box in the lower-left corner
    ctx.font = '13.5px ' + SERIF;
    ctx.letterSpacing = '0.55px';
    const tw = ctx.measureText(ds.label).width;
    const bh = 18, bx = a.left + 7.5, by = a.bottom - 4.5 - bh, bw = 36 + tw + 3;
    ctx.beginPath();
    ctx.roundRect(bx, by, bw, bh, 3);
    ctx.fillStyle = 'rgba(255,255,255,0.85)';
    ctx.fill();
    ctx.strokeStyle = '#cccccc';
    ctx.lineWidth = 1;
    ctx.stroke();
    const cy = by + bh / 2;
    ctx.strokeStyle = ds.borderColor;
    ctx.beginPath(); ctx.moveTo(bx + 2, cy); ctx.lineTo(bx + 26, cy); ctx.stroke();
    ctx.beginPath(); ctx.arc(bx + 14, cy, 2.2, 0, Math.PI * 2);
    ctx.fillStyle = '#fff'; ctx.fill(); ctx.stroke();
    ctx.fillStyle = '#111';
    ctx.textBaseline = 'middle';
    ctx.textAlign = 'left';
    ctx.fillText(ds.label, bx + 36, cy + 0.5);

    // notes attached to the event lines
    if (opts.first) {
      const { x, y } = chart.scales;
      ctx.letterSpacing = '0.3px';
      ctx.strokeStyle = '#000';
      ctx.lineWidth = 1;
      for (let i = 0; i < noteDates.length; i++) {
        const px = x.getPixelForValue(toDay(noteDates[i]));
        const py = crisp(y.getPixelForValue(noteLevels[i]));
        ctx.beginPath(); ctx.moveTo(px, py); ctx.lineTo(px + 10.5, py); ctx.stroke();
        ctx.fillText(noteLines[i][0], px + 17.5, py - 6.3);
        ctx.fillText(noteLines[i][1], px + 17.5, py + 6.3);
      }
    }
    ctx.restore();
  }
};

// ---- build the four stacked panels ---------------------------------------
const panelSeries = [obs395H, obs420V, obs440V, obs440H];
const canvasIds = ['p0', 'p1', 'p2', 'p3'];
const panelPadding = [[11, 9], [8, 8], [8, 8], [8, 0]];

panelSeries.forEach((obs, i) => {
  const last = i === panelSeries.length - 1;
  const color = sensorColors[i];
  new Chart(document.getElementById(canvasIds[i]), {
    type: 'line',
    data: {
      datasets: [{
        label: sensorLabels[i],
        data: toPoints(obs),
        borderColor: color,
        backgroundColor: 'transparent',
        borderWidth: 1,
        pointRadius: 2.2,
        pointBorderWidth: 1,
        pointBorderColor: color,
        pointBackgroundColor: 'rgba(255,255,255,0)',
        spanGaps: false,
        tension: 0
      }]
    },
    options: {
      responsive: false,
      animation: false,
      events: [],
      layout: { padding: { top: panelPadding[i][0], bottom: panelPadding[i][1], left: 0, right: 1 } },
      plugins: {
        legend: { display: false },
        tooltip: { enabled: false },
        panelDecor: { first: i === 0, last: last }
      },
      scales: {
        x: {
          type: 'linear',
          min: toDay(xStart),
          max: toDay(xEnd),
          display: last,
          grid: { display: false, drawTicks: false },
          border: { display: false },
          afterBuildTicks: s => { s.ticks = tickDates.map(d => ({ value: toDay(d) })); },
          afterFit: s => { s.height = last ? 47 : 0; },
          ticks: {
            autoSkip: false,
            minRotation: 30,
            maxRotation: 30,
            padding: 11,
            color: '#111',
            font: { family: SERIF, size: 14.5 },
            callback: (v, idx) => tickLabels[idx]
          }
        },
        y: {
          min: 0,
          max: 20,
          afterBuildTicks: s => { s.ticks = levelTicks.map(v => ({ value: v })); },
          afterFit: s => { s.width = 54; },
          border: { display: false },
          grid: {
            drawTicks: false,
            lineWidth: 1,
            color: c => (c.tick && (c.tick.value === 0 || c.tick.value === 20)) ? 'rgba(0,0,0,0)' : '#e2e2e2'
          },
          ticks: {
            autoSkip: false,
            padding: 5,
            color: '#111',
            font: { family: SERIF, size: 14 }
          }
        }
      }
    },
    plugins: [panelDecor]
  });
});
</script>
</body>
</html>
